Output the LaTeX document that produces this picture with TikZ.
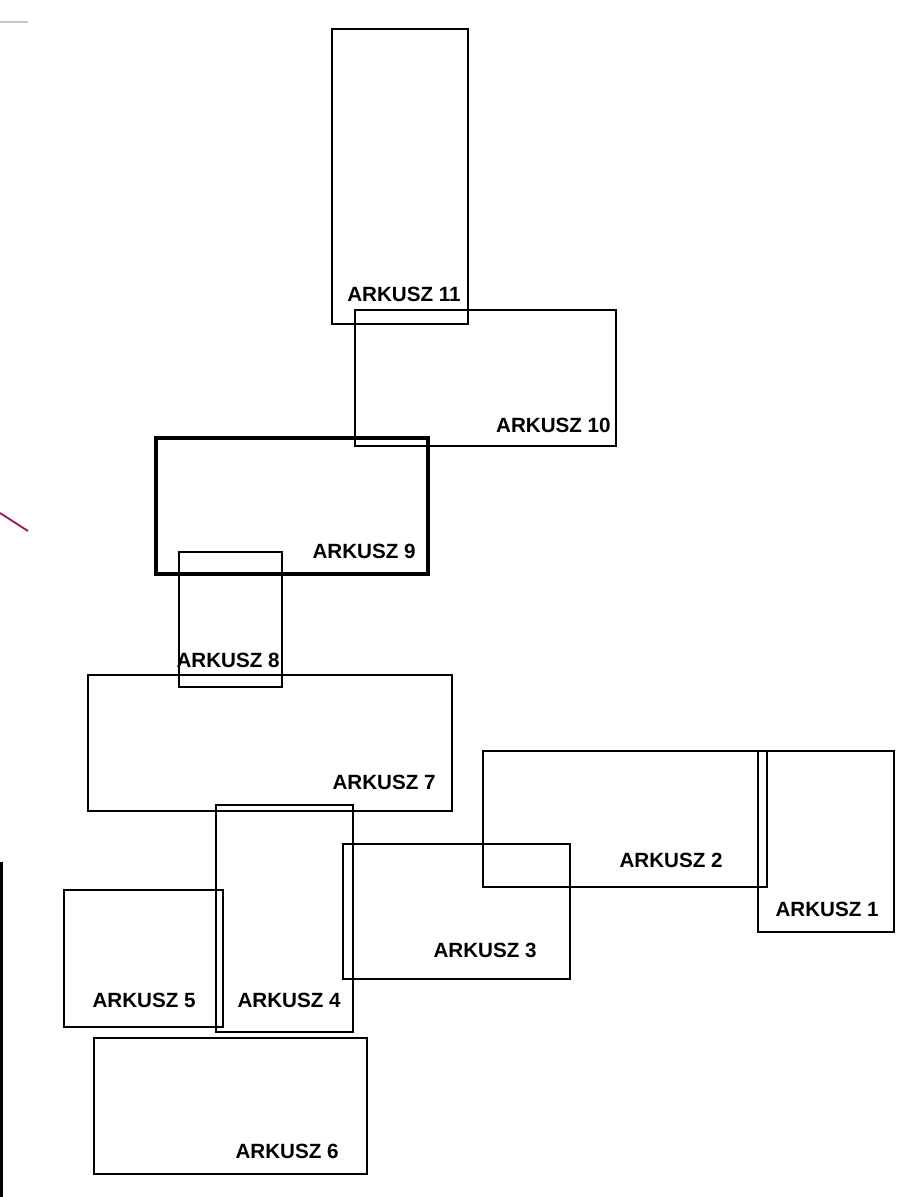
\documentclass[tikz,border=0pt]{standalone}
\usepackage{fontspec}
\setmainfont{Liberation Sans}
\definecolor{edgemagenta}{RGB}{160,20,90}

\tikzset{
  sheet/.style={draw=black, line width=0.75pt},
  thicksheet/.style={draw=black, line width=2pt},
  sheetlabel/.style={anchor=base east, inner sep=0pt,
    font=\bfseries\fontsize{10.3}{12}\selectfont}
}

\begin{document}
\begin{tikzpicture}[x=0.5pt,y=-0.5pt]
  \useasboundingbox (0,0) rectangle (896,1197);
  % bits at the left edge of the page
  \draw[gray!45, line width=0.8pt] (0,22) -- (28,22);
  \draw[edgemagenta, line width=0.9pt] (0,513) -- (28,531);
  \draw[black, line width=1.6pt] (1.5,862) -- (1.5,1197);

  % upper sheets
  \draw[sheet] (332,29) rectangle (468,324);
  \node[sheetlabel] (a11) at (461,302) {ARKUSZ 11};
  \draw[sheet] (355,310) rectangle (616,446);
  \node[sheetlabel] (a10) at (611,432) {ARKUSZ 10};
  \draw[thicksheet] (156,438) rectangle (428,574);
  \node[sheetlabel] (a9) at (416,558) {ARKUSZ 9};
  \draw[sheet] (179,552) rectangle (282,687);
  \node[sheetlabel] (a8) at (280,667) {ARKUSZ 8};
  \draw[sheet] (88,675) rectangle (452,811);
  \node[sheetlabel] (a7) at (436,789) {ARKUSZ 7};

  % right sheets
  \draw[sheet] (483,751) rectangle (767,887);
  \node[sheetlabel] (a2) at (723,867) {ARKUSZ 2};
  \draw[sheet] (758,751) rectangle (894,932);
  \node[sheetlabel] (a1) at (879,916) {ARKUSZ 1};
  \draw[sheet] (343,844) rectangle (570,979);
  \node[sheetlabel] (a3) at (537,957) {ARKUSZ 3};

  % lower left sheets
  \draw[sheet] (216,805) rectangle (353,1032);
  \node[sheetlabel] (a4) at (341,1007) {ARKUSZ 4};
  \draw[sheet] (64,890) rectangle (223,1027);
  \node[sheetlabel] (a5) at (196,1007) {ARKUSZ 5};
  \draw[sheet] (94,1038) rectangle (367,1174);
  \node[sheetlabel] (a6) at (339,1158) {ARKUSZ 6};
\end{tikzpicture}
\end{document}
